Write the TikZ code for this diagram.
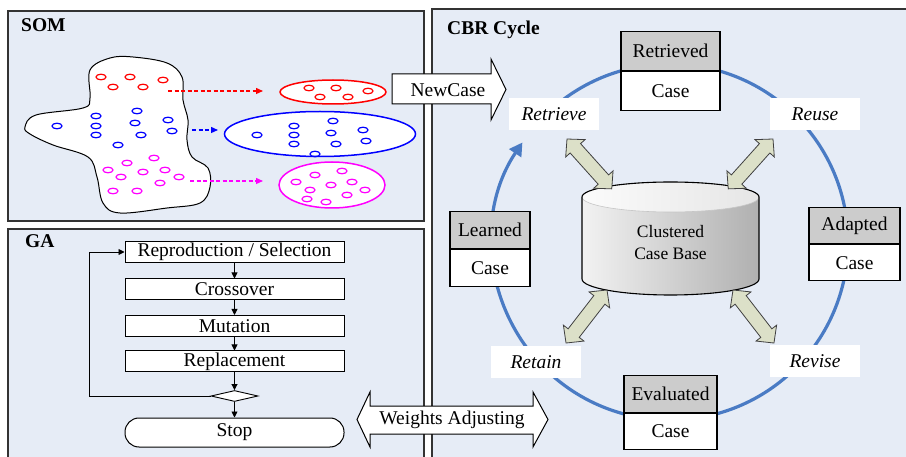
\documentclass[tikz,border=0pt]{standalone}
\usepackage{fontspec}
\setmainfont{Liberation Serif}
\usetikzlibrary{arrows.meta,shapes.geometric,calc}
\definecolor{panelbg}{HTML}{E6ECF6}
\definecolor{hdrgray}{HTML}{CCCCCC}
\definecolor{cycleblue}{HTML}{4A7BC4}
\definecolor{khaki}{HTML}{DCE0C8}
\definecolor{somred}{HTML}{FF0000}
\definecolor{somblue}{HTML}{0000FF}
\definecolor{sommag}{HTML}{FF00FF}
\newcommand\somdot[3]{\draw[#1, line width=1.2pt] (#2,#3) ellipse[x radius=5pt, y radius=2.8pt];}
\newcommand\casebox[6]{%
  \node[hdrbox, minimum width=#4pt, minimum height=#5pt, anchor=north] (#1h) at (#2,#3) {#6};
  \node[casecell, minimum width=#4pt, minimum height=#5pt, anchor=north] (#1c) at (#1h.south) {Case};}
\newcommand\dblarrow[4]{%
  \begin{scope}[shift={(#1,#2)}, rotate=#3]
    \draw[dblarr] (0,0) -- (12.5,13) -- (12.5,7) -- (#4-12.5,7) -- (#4-12.5,13) -- (#4,0)
      -- (#4-12.5,-13) -- (#4-12.5,-7) -- (12.5,-7) -- (12.5,-13) -- cycle;
  \end{scope}}
\tikzset{
  panel/.style={draw=black!80, line width=1.1pt, fill=panelbg},
  paneltitle/.style={font=\fontsize{19.5}{22}\selectfont\bfseries, anchor=base west, inner sep=0},
  gabox/.style={draw, line width=1pt, fill=white, minimum width=219pt, minimum height=21pt, inner sep=0, font=\fontsize{19.5}{22}\selectfont},
  flow/.style={-{Triangle[length=6pt,width=6pt]}, line width=0.9pt},
  somarrow/.style={dash pattern=on 4pt off 2.5pt, line width=1.3pt, -{Triangle[length=7pt,width=6pt]}},
  hdrbox/.style={draw, line width=1.2pt, fill=hdrgray, inner sep=0, font=\fontsize{19.5}{22}\selectfont},
  casecell/.style={draw, line width=1.2pt, fill=white, inner sep=0, font=\fontsize{19.5}{22}\selectfont},
  phase/.style={fill=white, minimum width=90pt, minimum height=32pt, inner sep=0, font=\fontsize{19.5}{22}\selectfont\itshape},
  dblarr/.style={draw=black!75, fill=khaki, line width=0.8pt, line join=miter},
  blockarr/.style={draw=black, fill=white, line width=1pt, line join=miter},
  plain/.style={inner sep=0, font=\fontsize{19.5}{22}\selectfont},
}
\begin{document}
\begin{tikzpicture}[x=1pt, y=-1pt]
\clip (0,0) rectangle (906,457);
\fill[white] (0,0) rectangle (906,457);
% panels
\draw[panel] (8,11) rectangle (424,221);
\draw[panel] (8,229) rectangle (424,470);
\draw[panel] (432,9) rectangle (920,470);
\node[paneltitle] (tsom) at (21,32) {SOM};
\node[paneltitle] (tga) at (25,248) {GA};
\node[paneltitle] (tcbr) at (447,35) {CBR Cycle};

% ---------------- SOM ----------------
\draw[line width=1pt, fill=white] plot[smooth cycle, tension=0.6] coordinates {
 (25,127) (36,115) (83,108) (90,98) (90,70) (110,58) (133,57) (167,63) (182,77)
 (183,100) (188,120) (187,140) (192,157) (208,168) (210,187) (200,203) (167,208)
 (120,213) (103,203) (97,177) (88,157) (53,145) (30,134)};
\somdot{somred}{101}{77}\somdot{somred}{130}{77}\somdot{somred}{163}{80}
\somdot{somred}{113}{87}\somdot{somred}{143}{87}
\somdot{somblue}{57}{126}\somdot{somblue}{96}{116}\somdot{somblue}{96}{126}
\somdot{somblue}{96}{135}\somdot{somblue}{137}{111}\somdot{somblue}{135}{123}
\somdot{somblue}{168}{120}\somdot{somblue}{172}{131}\somdot{somblue}{141}{135}
\somdot{somblue}{118}{145}
\somdot{sommag}{154}{158}\somdot{sommag}{127}{163}\somdot{sommag}{108}{170}
\somdot{sommag}{121}{177}\somdot{sommag}{143}{172}\somdot{sommag}{165}{170}
\somdot{sommag}{179}{177}\somdot{sommag}{160}{183}\somdot{sommag}{113}{191}
\somdot{sommag}{137}{191}
% clusters
\draw[somred, line width=1.5pt, fill=white] (333,92) ellipse[x radius=53pt, y radius=12pt];
\draw[somblue, line width=1.5pt, fill=white] (320,134) ellipse[x radius=95.5pt, y radius=22.5pt];
\draw[sommag, line width=1.5pt, fill=white] (332,185) ellipse[x radius=53pt, y radius=23pt];
\somdot{somred}{309}{88}\somdot{somred}{336}{88}\somdot{somred}{368}{91}
\somdot{somred}{320}{97}\somdot{somred}{348}{97}
\somdot{somblue}{257}{135}\somdot{somblue}{294}{126}\somdot{somblue}{294}{135}
\somdot{somblue}{294}{144}\somdot{somblue}{333}{121}\somdot{somblue}{331}{133}
\somdot{somblue}{336}{144}\somdot{somblue}{363}{130}\somdot{somblue}{366}{141}
\somdot{somblue}{315}{154}
\somdot{sommag}{315}{175}\somdot{sommag}{342}{171}\somdot{sommag}{296}{182}
\somdot{sommag}{331}{185}\somdot{sommag}{352}{182}\somdot{sommag}{310}{190}
\somdot{sommag}{365}{190}\somdot{sommag}{347}{195}\somdot{sommag}{307}{199}
\somdot{sommag}{326}{202}
\coordinate (rs) at (168,91);  \coordinate (re) at (263,91);
\coordinate (bs) at (192,130); \coordinate (be) at (218,130);
\coordinate (ms) at (190,181); \coordinate (me) at (263,181);
\draw[somarrow, somred] (rs) -- (re);
\draw[somarrow, somblue] (bs) -- (be);
\draw[somarrow, sommag] (ms) -- (me);

% ---------------- GA ----------------
\node[gabox] (repro) at (234.5,252) {Reproduction / Selection};
\node[gabox] (cross) at (234.5,289.5) {Crossover};
\node[gabox] (mut) at (234.5,326) {Mutation};
\node[gabox] (repl) at (234.5,361.5) {Replacement};
\node[draw, diamond, fill=white, minimum width=47pt, minimum height=11pt, inner sep=0, line width=0.9pt] (dia) at (234.5,396) {};
\node[gabox, rounded corners=14pt, minimum height=29pt] (stop) at (234.5,432.5) {Stop};
\draw[flow] (repro) -- (cross);
\draw[flow] (cross) -- (mut);
\draw[flow] (mut) -- (repl);
\draw[flow] (repl) -- (dia);
\draw[flow] (dia) -- (stop);
\coordinate (loop) at (89,396);
\draw[flow] (dia.west) -- (loop) |- (repro.west);

% ---------------- CBR ----------------
\coordinate (cyc) at (670,242);
\draw[cycleblue, line width=3.2pt, -{Triangle[length=13pt,width=14pt]}]
  (cyc) ++(130:178pt) arc[start angle=130, end angle=-214, radius=178pt];

% cylinder
\shade[left color=gray!10, right color=gray!62]
  (582,197) -- (582,279) arc[start angle=180, end angle=360, x radius=88.5pt, y radius=16pt]
  -- (759,197) arc[start angle=0, end angle=180, x radius=88.5pt, y radius=15pt] -- cycle;
\shade[left color=gray!3, right color=gray!20, draw=gray!45, line width=0.6pt]
  (670.5,197) ellipse[x radius=88.5pt, y radius=15pt];
\draw[line width=1.1pt]
  (582,197) -- (582,279) arc[start angle=180, end angle=360, x radius=88.5pt, y radius=16pt]
  -- (759,197) arc[start angle=0, end angle=180, x radius=88.5pt, y radius=15pt] -- cycle;
\node[inner sep=0, align=center, font=\fontsize{17.5}{22}\selectfont] (cb) at (670.5,243) {Clustered\\Case Base};

% double arrows
\dblarrow{567}{139}{-48.1}{67}
\dblarrow{773}{139}{-131.9}{67}
\dblarrow{607}{290}{-127.7}{67}
\dblarrow{733}{290}{-52.3}{67}

% phase labels
\node[phase] (pret) at (554,114) {Retrieve};
\node[phase] (preu) at (815,114) {Reuse};
\node[phase] (prtn) at (536,362.5) {Retain};
\node[phase] (prev) at (815,361) {Revise};

% case boxes
\casebox{ret}{670.5}{31}{99}{39}{Retrieved}
\casebox{ada}{854.5}{207}{91}{36}{Adapted}
\casebox{lrn}{490}{211}{80}{37}{Learned}
\casebox{eva}{670.5}{375}{93}{36.5}{Evaluated}

% NewCase arrow
\draw[blockarr] (392,74) -- (491,74) -- (491,59) -- (506,89.5) -- (491,120) -- (491,104) -- (392,104) -- cycle;
\node[plain] (newcase) at (448,90) {NewCase};

% Weights Adjusting arrow
\draw[blockarr] (357,419.5) -- (370,392) -- (370,406) -- (533,406) -- (533,392) -- (548,419.5)
  -- (533,447) -- (533,434) -- (370,434) -- (370,447) -- cycle;
\node[plain] (weights) at (452,420) {Weights Adjusting};
\end{tikzpicture}
\end{document}
